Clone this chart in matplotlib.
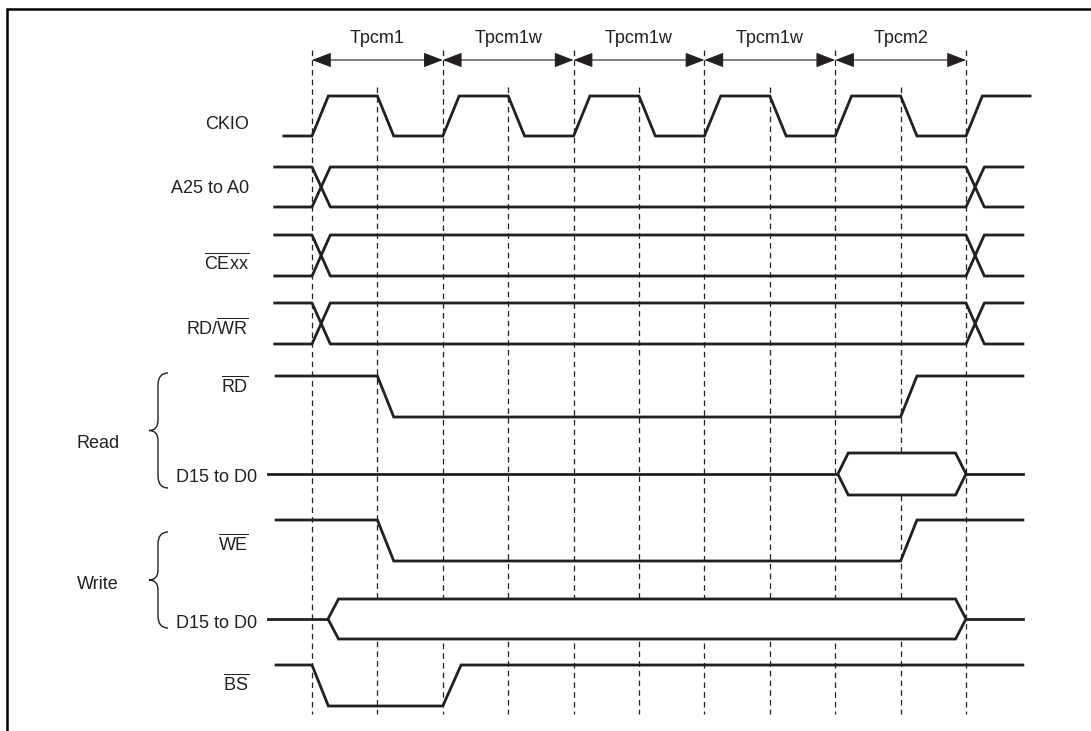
import matplotlib
matplotlib.use("Agg")
import matplotlib.pyplot as plt
from matplotlib.patches import FancyArrowPatch, Polygon, PathPatch, ArrowStyle
from matplotlib.path import Path

plt.rcParams['font.family'] = ['Liberation Sans', 'DejaVu Sans']
plt.rcParams['mathtext.fontset'] = 'custom'
plt.rcParams['mathtext.rm'] = 'Liberation Sans'
plt.rcParams['mathtext.it'] = 'Liberation Sans:italic'
plt.rcParams['lines.scale_dashes'] = False

INK = '#231f20'

# time axis: one unit = half a CKIO cycle, 0 = first dashed line
cycles = ["Tpcm1", "Tpcm1w", "Tpcm1w", "Tpcm1w", "Tpcm2"]
cycle_edges = [0, 2, 4, 6, 8, 10]
marker_times = [0, 1, 2, 3, 4, 5, 6, 7, 8, 9, 10]

# signal names (left column)
names = ["CKIO", "A25 to A0", r"$\overline{\mathrm{CExx}}$", r"RD/$\overline{\mathrm{WR}}$",
         r"$\overline{\mathrm{RD}}$", "D15 to D0", r"$\overline{\mathrm{WE}}$", "D15 to D0",
         r"$\overline{\mathrm{BS}}$"]
groups = ["Read", "Write"]

# waveforms: times and levels (1 = high, 0 = low)
clk_t = [-0.43, 0, 0.25, 1, 1.25, 2, 2.25, 3, 3.25, 4, 4.25, 5, 5.25, 6, 6.25,
         7, 7.25, 8, 8.25, 9, 9.25, 10, 10.25, 10.98]
clk_v = [0, 0, 1, 1, 0, 0, 1, 1, 0, 0, 1, 1, 0, 0, 1,
         1, 0, 0, 1, 1, 0, 0, 1, 1]
rd_t = [-0.55, 1, 1.25, 9, 9.25, 10.87]
rd_v = [1, 1, 0, 0, 1, 1]
we_t = [-0.55, 1, 1.25, 9, 9.25, 10.87]
we_v = [1, 1, 0, 0, 1, 1]
bs_t = [-0.55, 0, 0.25, 2, 2.28, 10.87]
bs_v = [1, 1, 0, 0, 1, 1]

# address-type buses: start, change at 0 and 10, end
bus_span = [-0.57, 10.87]
bus_changes = [0, 10]
bus_slew = 0.28

# data buses: (line start, valid from, valid to, line end)
read_data = [-0.67, 8.04, 10.0, 10.87]
write_data = [-0.67, 0.245, 10.0, 10.87]
data_slew = 0.16

# layout (pixels)
W, H = 1091, 731
X0, UNIT = 312, 65.4
rows = {  # (high y, low y)
    "clk": (96, 136), "addr": (167, 207), "ce": (235, 276), "rdwr": (303, 344),
    "rd": (376, 417), "rdata": (453, 495), "we": (520, 561), "wdata": (599, 639),
    "bs": (665, 706),
}
label_base = [129, 193, 269, 335, 392, 482, 550, 628, 690]
label_right = [249, 249, 249, 249, 249, 257, 249, 257, 249]

fig = plt.figure(figsize=(W / 100, H / 100), dpi=100)
fig.patch.set_linewidth(0)
ax = fig.add_axes([0, 0, 1, 1])
ax.axis('off')
ax.set_xlim(-X0 / UNIT, (W - X0) / UNIT)
ax.set_ylim(H, 0)

# frame (top and left edges only)
ax.plot([7 / W, 7 / W, 1.02], [-0.02, 1 - 9 / H, 1 - 9 / H], transform=ax.transAxes,
        color='black', lw=1.8, clip_on=False, solid_joinstyle='miter')

# dashed time markers
for t in marker_times:
    top = 50 if t in cycle_edges else 87
    ax.plot([t, t], [top, 714], color=INK, lw=0.9, ls=(0, (4, 3)), zorder=1)

# cycle arrows
for name, a, b in zip(cycles, cycle_edges[:-1], cycle_edges[1:]):
    arr = FancyArrowPatch((a, 60), (b, 60),
                          arrowstyle=ArrowStyle('<|-|>', head_length=12, head_width=4.6),
                          mutation_scale=1, shrinkA=0, shrinkB=0, color=INK, lw=0.8)
    ax.add_patch(arr)
    ax.text((a + b) / 2, 43, name, ha='center', va='baseline', fontsize=13, color=INK)

lw = 2.0


def level(row, v):
    hi, lo = rows[row]
    return hi if v else lo


def draw_wave(row, ts, vs):
    ax.plot(ts, [level(row, v) for v in vs], color=INK, lw=lw, zorder=3,
            solid_joinstyle='miter')


def draw_bus(row):
    hi, lo = rows[row]
    c0, c1 = bus_changes
    xs = [bus_span[0], c0, c0 + bus_slew, c1, c1 + bus_slew, bus_span[1]]
    ax.plot(xs, [hi, hi, lo, lo, hi, hi], color=INK, lw=lw, zorder=3)
    ax.plot(xs, [lo, lo, hi, hi, lo, lo], color=INK, lw=lw, zorder=3)


def draw_data(row, spec):
    hi, lo = rows[row]
    mid = (hi + lo) / 2
    s, a, b, e = spec
    ax.plot([s, a], [mid, mid], color=INK, lw=lw, zorder=3)
    ax.plot([b, e], [mid, mid], color=INK, lw=lw, zorder=3)
    hexa = [(a, mid), (a + data_slew, hi), (b - data_slew, hi), (b, mid),
            (b - data_slew, lo), (a + data_slew, lo)]
    ax.add_patch(Polygon(hexa, closed=True, facecolor='white', edgecolor=INK,
                         lw=lw, zorder=3, joinstyle='miter'))


draw_wave("clk", clk_t, clk_v)
draw_bus("addr")
draw_bus("ce")
draw_bus("rdwr")
draw_wave("rd", rd_t, rd_v)
draw_data("rdata", read_data)
draw_wave("we", we_t, we_v)
draw_data("wdata", write_data)
draw_wave("bs", bs_t, bs_v)

# signal names
tr = ax.get_yaxis_transform()
for name, yb, xr in zip(names, label_base, label_right):
    ax.text(xr / W, yb, name, transform=tr, ha='right', va='baseline',
            fontsize=13, color=INK)


# braces for Read / Write groups
def brace(top, bottom, tip=149, spine=158, end=168):
    mid = (top + bottom) / 2
    v = [(end, top), (spine, top), (spine, top + 12), (spine, mid - 10),
         (spine, mid), (tip, mid), (spine, mid), (spine, mid + 10),
         (spine, bottom - 12), (spine, bottom), (end, bottom)]
    v = [(x / W, y) for x, y in v]
    codes = [Path.MOVETO, Path.CURVE3, Path.CURVE3, Path.LINETO,
             Path.CURVE3, Path.CURVE3, Path.CURVE3, Path.CURVE3,
             Path.LINETO, Path.CURVE3, Path.CURVE3]
    ax.add_patch(PathPatch(Path(v, codes), transform=tr, facecolor='none',
                           edgecolor=INK, lw=1.0))


brace(373, 488)
brace(532, 628)
ax.text(98 / W, 448, groups[0], transform=tr, ha='center', va='baseline', fontsize=13, color=INK)
ax.text(98 / W, 589, groups[1], transform=tr, ha='center', va='baseline', fontsize=13, color=INK)

fig.savefig("out.png", dpi=100)
